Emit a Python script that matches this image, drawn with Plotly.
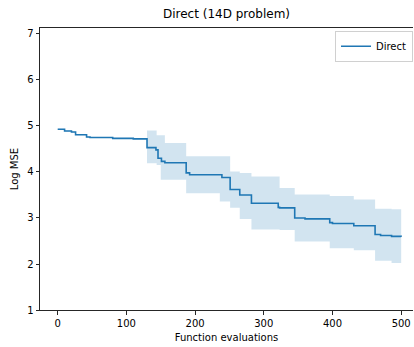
import plotly.graph_objects as go

# Breakpoints of the best-so-far curve (function evaluations)
evals = [0, 10, 20, 26, 42, 47, 80, 110, 130, 143, 144, 146, 150, 151, 156, 187, 192,
         236, 239, 251, 265, 282, 321, 323, 345, 360, 396, 400, 431, 462, 470, 486, 500]
mean_log_mse = [4.93, 4.89, 4.87, 4.81, 4.76, 4.75, 4.73, 4.72, 4.53, 4.48, 4.48, 4.30, 4.30,
                4.23, 4.20, 3.98, 3.94, 3.94, 3.88, 3.62, 3.50, 3.32, 3.23, 3.22, 3.00, 2.98,
                2.90, 2.88, 2.83, 2.64, 2.62, 2.60, 2.59]
upper_log_mse = [4.94, 4.90, 4.88, 4.82, 4.77, 4.76, 4.74, 4.73, 4.90, 4.90, 4.80, 4.80, 4.80,
                 4.80, 4.63, 4.34, 4.34, 4.34, 4.34, 4.01, 3.98, 3.90, 3.90, 3.65, 3.51, 3.51,
                 3.48, 3.48, 3.40, 3.20, 3.20, 3.19, 3.18]
lower_log_mse = [4.92, 4.88, 4.86, 4.80, 4.75, 4.74, 4.72, 4.71, 4.19, 4.19, 4.15, 4.15, 3.83,
                 3.83, 3.83, 3.54, 3.54, 3.36, 3.36, 3.22, 2.98, 2.75, 2.75, 2.74, 2.49, 2.49,
                 2.34, 2.34, 2.30, 2.07, 2.07, 2.02, 2.01]

x_ticks = [0, 100, 200, 300, 400, 500]
y_ticks = [1, 2, 3, 4, 5, 6, 7]

blue = "#1f77b4"
band = "rgba(31,119,180,0.2)"
axis_col = "#262626"
font = "DejaVu Sans"

fig = go.Figure()
fig.add_trace(go.Scatter(x=evals, y=lower_log_mse, mode="lines", line=dict(width=0, shape="hv"),
                         showlegend=False, hoverinfo="skip"))
fig.add_trace(go.Scatter(x=evals, y=upper_log_mse, mode="lines", line=dict(width=0, shape="hv"),
                         fill="tonexty", fillcolor=band, showlegend=False, hoverinfo="skip"))
fig.add_trace(go.Scatter(x=evals, y=mean_log_mse, mode="lines", name="Direct",
                         line=dict(color=blue, width=1.6, shape="hv")))

fig.update_layout(
    width=414, height=347,
    margin=dict(l=40, r=1, t=28, b=37),
    paper_bgcolor="white", plot_bgcolor="white",
    font=dict(family=font, size=10, color="black"),
    title=dict(text="Direct (14D problem)", x=(40 + 413) / 2 / 414, xanchor="center",
               y=1 - 14 / 347, yanchor="middle", font=dict(size=12, family=font, color="black")),
    showlegend=True,
    legend=dict(x=1.0, xanchor="right", y=0.99, yanchor="top",
                bgcolor="rgba(255,255,255,0.8)", bordercolor="#d0d0d0", borderwidth=1,
                font=dict(size=10, family=font, color="black")),
)
fig.update_xaxes(range=[-25.8, 517.2], tickvals=x_ticks, ticks="outside", ticklen=3.5,
                 tickcolor=axis_col, showline=True, linecolor=axis_col, linewidth=1,
                 mirror=True, showgrid=False, zeroline=False,
                 title=dict(text="Function evaluations", standoff=6,
                            font=dict(size=10, family=font, color="black")))
fig.update_yaxes(range=[1, 7.13], tickvals=y_ticks, ticks="outside", ticklen=3.5,
                 tickcolor=axis_col, showline=True, linecolor=axis_col, linewidth=1,
                 mirror=False, showgrid=False, zeroline=False,
                 title=dict(text="Log MSE", standoff=6,
                            font=dict(size=10, family=font, color="black")))

fig.write_html("out.html")
